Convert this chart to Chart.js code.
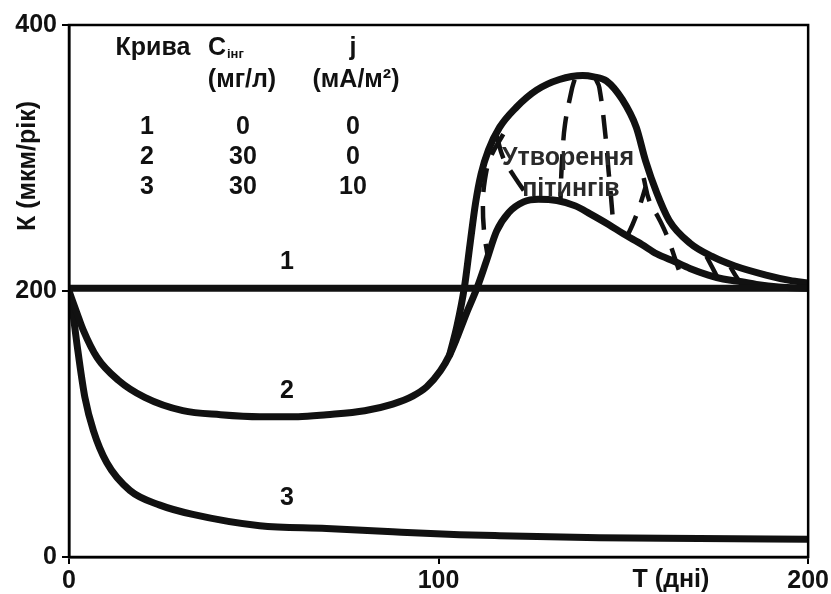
<!DOCTYPE html>
<html>
<head>
<meta charset="utf-8">
<script src="https://cdn.jsdelivr.net/npm/chart.js@4"></script>
<style>
  body { margin: 0; background: #fff; }
  #wrap { width: 831px; height: 594px; }
</style>
</head>
<body>
<div id="wrap"><canvas id="myChart"></canvas></div>
<script>
// Curve 1: C = 0, j = 0
var days1 = [0, 200];
var rate1 = [202, 202];

// Curve 2: C = 30, j = 0 (lower branch through the hump)
var days2 = [0, 2.2, 3.8, 7.6, 13.3, 20.5, 30.8, 41, 51.6, 62, 69.7, 80, 87.6, 93, 96.8, 100.5, 103, 105, 107.5, 110.5, 113, 115.7, 119, 123, 127, 132, 137, 141, 146, 150, 155, 159, 164, 168, 173, 177, 182, 186, 192, 200];
var rate2 = [200, 183, 171, 150, 133, 120, 110, 107, 105.5, 105.5, 107, 110, 115, 121, 128, 140, 152, 165, 183, 203, 223, 245, 259, 267, 269, 268, 264, 258, 250, 243, 235, 228, 222, 217, 212, 209, 207, 205, 203, 202];

// Curve 2, upper branch (pitting envelope)
var daysPit = [103, 105, 107, 108.5, 110, 111.5, 113.5, 116.5, 121, 126.5, 132.7, 139, 142, 145.4, 149.7, 153.5, 156, 159, 162.4, 168, 174, 180, 188.6, 195, 200];
var ratePit = [152, 174, 203, 235, 266, 288, 306, 323, 338, 351, 359, 362, 361, 358, 344, 323, 298, 274, 253, 236, 226, 219, 212, 208, 206];

// Curve 3: C = 30, j = 10
var days3 = [0, 1.2, 2.4, 4.3, 6.6, 10.2, 16.5, 24.6, 33.5, 51.6, 69.7, 87.6, 105.7, 116.5, 143.5, 170.5, 200];
var rate3 = [200, 180, 155, 120, 95, 71, 50, 39, 32, 23.5, 21.5, 19, 16.8, 16, 14.5, 14, 13.3];

// dashed lines inside the pitting zone
var dashADays = [117.5, 114, 112.5, 112, 112.3, 113.3];
var dashARate = [318, 300, 283, 265, 245, 226];
var dashBDays = [136.8, 136, 134.2, 133.5, 133.2, 133];
var dashBRate = [359, 351, 325, 302, 287, 269];
var dashCDays = [142.4, 143.5, 145.3, 146, 146.5, 147.3];
var dashCRate = [360, 353, 313, 290, 276, 249];
var dashDDays = [150.8, 152.5, 154.3, 156];
var dashDRate = [240, 250, 263, 278];
var dashEDays = [155.5, 157, 159.7, 162, 165];
var dashERate = [285, 268, 254, 240, 216];
var dashFDays = [115.7, 117.5, 120.5, 124.5];
var dashFRate = [317, 300, 286, 270];
var dashGDays = [172.5, 174, 175.5];
var dashGRate = [226, 218, 210];
var dashHDays = [179, 180.5, 182];
var dashHRate = [218, 211, 205];

// tick labels
var xTicks = [0, 100, 200];
var yTicks = [0, 200, 400];

// legend table
var tableCurves = ["1", "2", "3"];
var tableConc = ["0", "30", "30"];
var tableCurrent = ["0", "0", "10"];

var FONT = '"Liberation Sans", Arial, sans-serif';
var INK = "#111";

function pts(xs, ys) {
  return xs.map(function (d, i) {
    return { x: d, y: ys[i] };
  });
}

function solid(xs, ys) {
  return {
    data: pts(xs, ys),
    borderColor: INK,
    borderWidth: 7,
    pointRadius: 0,
    fill: false,
    cubicInterpolationMode: "monotone",
    borderCapStyle: "round",
    borderJoinStyle: "round",
  };
}

function dashed(xs, ys) {
  return {
    data: pts(xs, ys),
    borderColor: INK,
    borderWidth: 4.5,
    borderDash: [24, 14],
    pointRadius: 0,
    fill: false,
    tension: 0.4,
  };
}

// text drawn over the plot
var textPlugin = {
  id: "texts",
  afterDatasetsDraw: function (chart) {
    var ctx = chart.ctx;
    var a = chart.chartArea;

    // frame
    ctx.save();
    ctx.strokeStyle = "#000";
    ctx.lineWidth = 2.5;
    ctx.strokeRect(a.left, a.top, a.right - a.left, a.bottom - a.top);

    ctx.fillStyle = INK;
    ctx.textAlign = "center";
    ctx.textBaseline = "middle";
    ctx.font = "bold 25px " + FONT;

    // table header
    var colA = 153, colB = 242, colC = 356;
    ctx.fillText("Крива", colA, 48);
    ctx.fillText("(мг/л)", colB, 80);
    ctx.fillText("(мА/м²)", colC, 80);
    ctx.fillText("j", colC - 3, 48);
    // C with subscript
    ctx.textAlign = "left";
    ctx.fillText("C", 208, 48);
    ctx.font = "bold 13px " + FONT;
    ctx.fillText("інг", 227, 54);
    ctx.textAlign = "center";
    ctx.font = "bold 25px " + FONT;
    var rowsY = [127, 157, 187];
    tableCurves.forEach(function (c, i) {
      ctx.fillText(c, colA - 6, rowsY[i]);
      ctx.fillText(tableConc[i], colB + 1, rowsY[i]);
      ctx.fillText(tableCurrent[i], colC - 3, rowsY[i]);
    });

    // curve numbers
    ctx.fillText("1", 287, 262);
    ctx.fillText("2", 287, 391);
    ctx.fillText("3", 287, 498);

    // pitting note
    ctx.fillStyle = "#2a2a2a";
    ctx.fillText("Утворення", 568, 158);
    ctx.fillText("пітингів", 571, 189);

    // axis titles
    ctx.fillStyle = INK;
    ctx.fillText("Т (дні)", 671, 580);
    ctx.translate(28, 166);
    ctx.rotate(-Math.PI / 2);
    ctx.fillText("К (мкм/рік)", 0, 0);
    ctx.restore();
  },
};

var ctx = document.getElementById("myChart");
new Chart(ctx, {
  type: "line",
  data: {
    datasets: [
      solid(days1, rate1),
      solid(days2, rate2),
      solid(daysPit, ratePit),
      solid(days3, rate3),
      dashed(dashADays, dashARate),
      dashed(dashBDays, dashBRate),
      dashed(dashCDays, dashCRate),
      dashed(dashDDays, dashDRate),
      dashed(dashEDays, dashERate),
      dashed(dashFDays, dashFRate),
      dashed(dashGDays, dashGRate),
      dashed(dashHDays, dashHRate),
    ],
  },
  options: {
    responsive: true,
    maintainAspectRatio: false,
    animation: false,
    layout: { padding: { top: 25, right: 22, left: 0, bottom: 0 } },
    plugins: {
      legend: { display: false },
      tooltip: { enabled: false },
    },
    scales: {
      x: {
        type: "linear",
        min: 0,
        max: 200,
        afterFit: function (s) { s.height = 37; },
        afterBuildTicks: function (s) {
          s.ticks = xTicks.map(function (v) { return { value: v }; });
        },
        border: { display: true, color: "#000", width: 2.5 },
        grid: { drawOnChartArea: false, drawTicks: true, tickLength: 7, color: "#000", lineWidth: 2 },
        ticks: {
          color: INK,
          padding: 2,
          maxRotation: 0,
          font: { family: FONT, size: 25, weight: "bold" },
        },
      },
      y: {
        type: "linear",
        min: 0,
        max: 400,
        afterFit: function (s) { s.width = 69; },
        afterBuildTicks: function (s) {
          s.ticks = yTicks.map(function (v) { return { value: v }; });
        },
        border: { display: true, color: "#000", width: 2.5 },
        grid: { drawOnChartArea: false, drawTicks: true, tickLength: 7, color: "#000", lineWidth: 2 },
        ticks: {
          color: INK,
          padding: 5,
          font: { family: FONT, size: 25, weight: "bold" },
        },
      },
    },
  },
  plugins: [textPlugin],
});
</script>
</body>
</html>
